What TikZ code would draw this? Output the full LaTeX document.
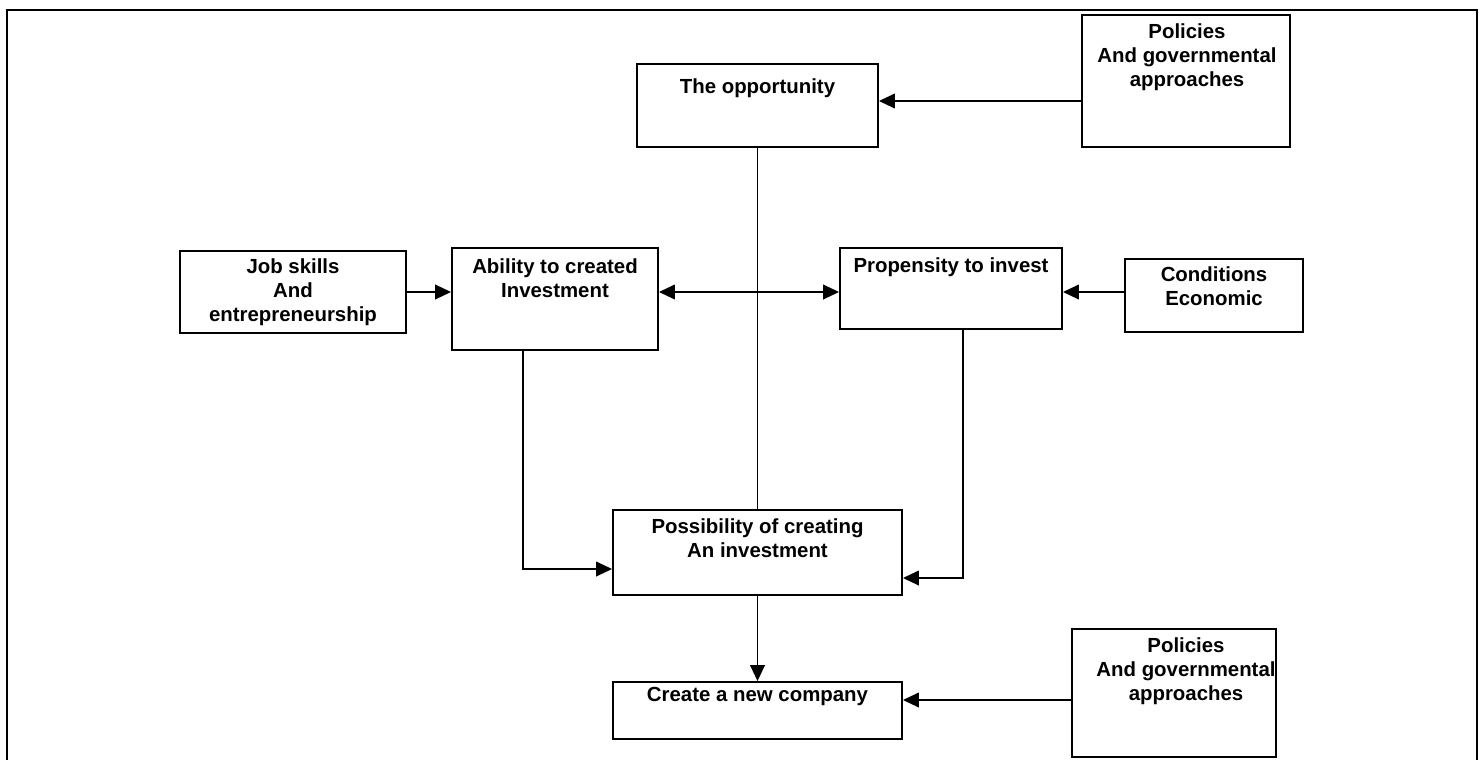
\documentclass[tikz,border=0pt]{standalone}
\usepackage{fontspec}
\setmainfont{Liberation Sans}
\usetikzlibrary{arrows.meta}
\begin{document}
\begin{tikzpicture}[x=0.75pt,y=-0.75pt,
  bx/.style={draw, line width=1.4pt, inner sep=0pt, rectangle},
  lbl/.style={anchor=north, inner sep=0pt, align=center, font=\fontsize{15.3}{18}\selectfont\bfseries},
  ln/.style={line width=1.35pt},
  arr/.style={ln, -{Triangle[length=12pt,width=11pt]}},
  dbl/.style={ln, {Triangle[length=12pt,width=11pt]}-{Triangle[length=12pt,width=11pt]}},
  frame/.style={line width=2.2pt}]
\useasboundingbox (0,0) rectangle (1480,760);
% outer frame
\coordinate (f1) at (7,760);
\coordinate (f2) at (7,10);
\coordinate (f3) at (1477,10);
\coordinate (f4) at (1477,760);
\draw[frame] (f1) -- (f2) -- (f3) -- (f4);
% boxes
\node[bx, minimum width=180.75pt, minimum height=62.25pt] (opp) at (757.5,105.5) {};
\node[bx, minimum width=156pt, minimum height=99pt] (pol1) at (1186,81) {};
\node[bx, minimum width=169.5pt, minimum height=61.5pt] (job) at (293,292) {};
\node[bx, minimum width=154.5pt, minimum height=76.5pt] (abl) at (555,299) {};
\node[bx, minimum width=166.5pt, minimum height=60.75pt] (prop) at (951,288.5) {};
\node[bx, minimum width=133.5pt, minimum height=54.75pt] (cond) at (1214,295.5) {};
\node[bx, minimum width=216.75pt, minimum height=63.75pt] (poss) at (757.5,552.5) {};
\node[bx, minimum width=216.75pt, minimum height=42.75pt] (create) at (757.5,710.5) {};
\node[bx, minimum width=153pt, minimum height=96pt] (pol2) at (1174,693) {};
% texts
\node[lbl] (topp) at (757.5,78) {The opportunity};
\node[lbl] (tpol1) at (1187,23) {Policies\\And governmental\\approaches};
\node[lbl] (tjob) at (293,258) {Job skills\\And\\entrepreneurship};
\node[lbl] (tabl) at (555,258) {Ability to created\\Investment};
\node[lbl] (tprop) at (951,257) {Propensity to invest};
\node[lbl] (tcond) at (1214,266) {Conditions\\Economic};
\node[lbl] (tposs) at (757.5,518) {Possibility of creating\\An investment};
\node[lbl] (tcreate) at (757.5,687) {Create a new company};
\node[lbl] (tpol2) at (1186,637) {Policies\\And governmental\\approaches};
% connectors
\coordinate (ya) at (0,101);
\coordinate (yb) at (0,292);
\coordinate (yc) at (0,700);
\coordinate (ab) at (523,569);
\coordinate (pb) at (963,578);
\draw[arr] (pol1.west |- ya) -- (opp.east |- ya);
\draw[arr] (job.east |- yb) -- (abl.west |- yb);
\draw[dbl] (abl.east |- yb) -- (prop.west |- yb);
\draw[arr] (cond.west |- yb) -- (prop.east |- yb);
\draw[ln] (opp.south) -- (poss.north);
\draw[arr] (abl.south -| ab) -- (ab) -- (poss.west |- ab);
\draw[arr] (prop.south -| pb) -- (pb) -- (poss.east |- pb);
\draw[arr] (poss.south) -- (create.north);
\draw[arr] (pol2.west |- yc) -- (create.east |- yc);
\end{tikzpicture}
\end{document}
